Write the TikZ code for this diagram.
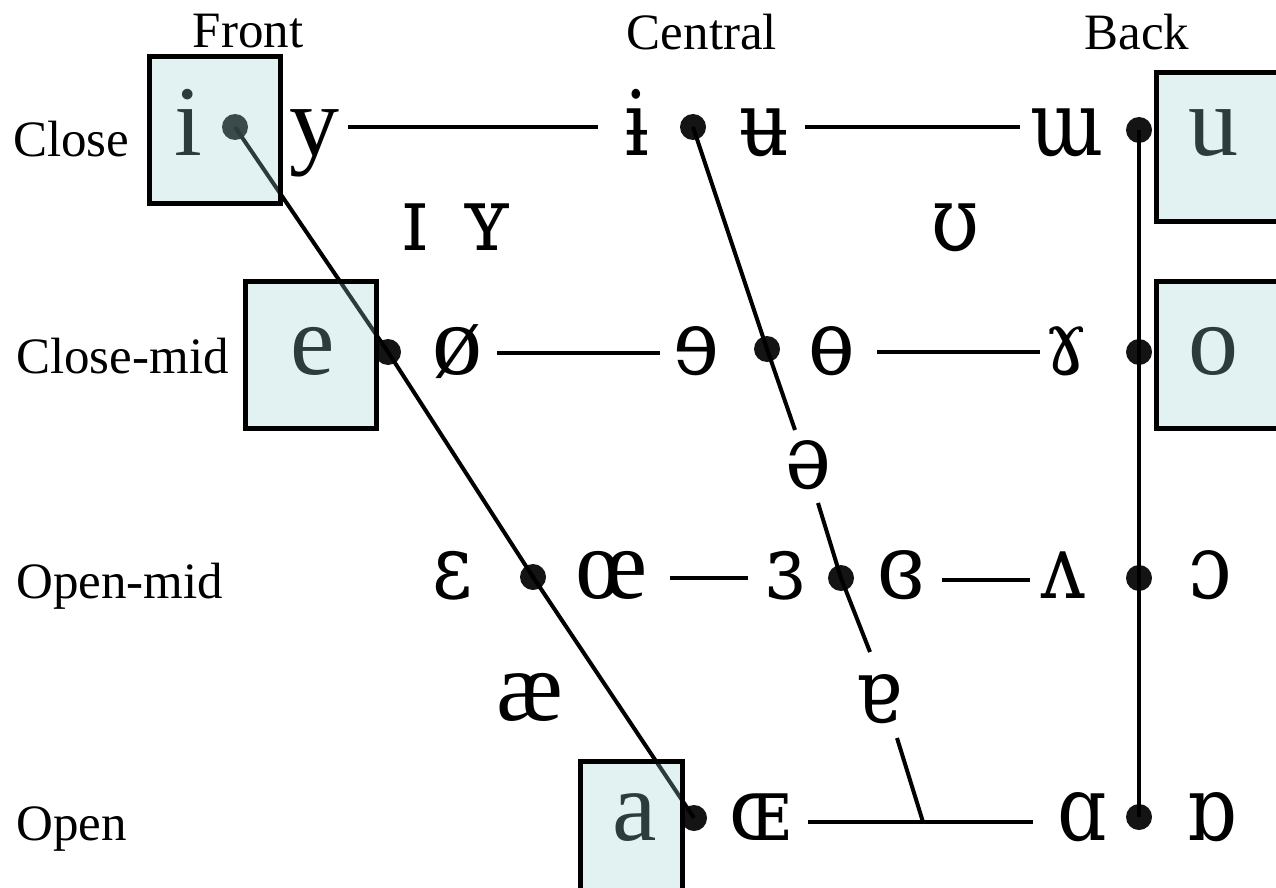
\documentclass[tikz,border=0pt]{standalone}
\usepackage{fontspec}
\setmainfont{Liberation Serif}
\newfontfamily\ipafont{DejaVu Serif}
\newcommand{\ipx}[1]{{\ipafont\fontsize{90}{90}\selectfont\scalebox{0.86}[1]{#1}}}
\definecolor{boxcyan}{RGB}{155,207,207}
\tikzset{
  lbl/.style={font=\fontsize{51}{51}\selectfont, inner sep=0pt, anchor=base},
  rowlbl/.style={font=\fontsize{51}{51}\selectfont, inner sep=0pt, anchor=base west},
  ipa/.style={font=\fontsize{100}{100}\selectfont, inner sep=0pt, anchor=base},
  vbox/.style={draw=black, line width=5pt, fill=boxcyan, fill opacity=0.29, draw opacity=1, inner sep=0pt},
  vdot/.style={circle, fill=black!92, inner sep=0pt, minimum size=26pt},
  ln/.style={line width=4pt},
}
\begin{document}
\begin{tikzpicture}[x=1pt,y=-1pt]
\useasboundingbox (0,0) rectangle (1276,888);
\clip (0,0) rectangle (1276,888);

% column and row labels
\node[lbl] (front) at (248,48) {Front};
\node[lbl] (central) at (702,50) {Central};
\node[lbl] (back) at (1137,50) {Back};
\node[rowlbl] (close) at (13,157) {Close};
\node[rowlbl] (closemid) at (16,373) {Close-mid};
\node[rowlbl] (openmid) at (16,598) {Open-mid};
\node[rowlbl] (open) at (16,840) {Open};

% dots
\node[vdot] (di) at (235,127) {};
\node[vdot] (dc1) at (693,127) {};
\node[vdot] (db1) at (1139,130) {};
\node[vdot] (de) at (388,352) {};
\node[vdot] (dc2) at (767,349) {};
\node[vdot] (db2) at (1139,352) {};
\node[vdot] (dom) at (533,577) {};
\node[vdot] (dc3) at (841,578) {};
\node[vdot] (db3) at (1139,578) {};
\node[vdot] (da) at (694,818) {};
\node[vdot] (db4) at (1139,817) {};

% vowel symbols
\node[ipa] (vi) at (188,155) {i};
\node[ipa] (vy) at (314,155) {y};
\node[ipa] (vbi) at (637,155) {\ipx{ɨ}};
\node[ipa] (vbu) at (764,155) {\ipx{ʉ}};
\node[ipa] (vmw) at (1067,155) {\ipx{ɯ}};
\node[ipa] (vu) at (1213,155) {u};

\node[ipa] (vsi) at (415,250) {\ipx{ɪ}};
\node[ipa] (vsy) at (487,250) {\ipx{ʏ}};
\node[ipa] (vsu) at (955,250) {\ipx{ʊ}};

\node[ipa] (ve) at (313,374) {e};
\node[ipa] (voe) at (457,374) {ø};
\node[ipa] (vre) at (696,374) {\ipx{ɘ}};
\node[ipa] (vbo) at (832,374) {\ipx{ɵ}};
\node[ipa] (vga) at (1066,374) {\ipx{ɤ}};
\node[ipa] (vo) at (1213,374) {o};

\node[ipa] (vschwa) at (808,488) {\ipx{ə}};

\node[ipa] (veps) at (453,598) {\ipx{ɛ}};
\node[ipa] (voel) at (612,598) {œ};
\node[ipa] (vrep) at (785,598) {\ipx{ɜ}};
\node[ipa] (vcre) at (901,598) {\ipx{ɞ}};
\node[ipa] (vwv) at (1063,598) {\ipx{ʌ}};
\node[ipa] (voo) at (1210,598) {\ipx{ɔ}};

\node[ipa] (vae) at (530,720) {æ};
\node[ipa] (vta) at (879,722) {\ipx{ɐ}};

\node[ipa] (va) at (635,840) {a};
\node[ipa] (vsoe) at (760,840) {\ipx{ɶ}};
\node[ipa] (valpha) at (1082,840) {\ipx{ɑ}};
\node[ipa] (vtalpha) at (1211,840) {\ipx{ɒ}};

% horizontal line ends
\coordinate (h1a) at (348,127);  \coordinate (h1b) at (598,127);
\coordinate (h2a) at (805,127);  \coordinate (h2b) at (1020,127);
\coordinate (h3a) at (497,353);  \coordinate (h3b) at (660,353);
\coordinate (h4a) at (877,352);  \coordinate (h4b) at (1040,352);
\coordinate (h5a) at (670,578);  \coordinate (h5b) at (748,578);
\coordinate (h6a) at (942,580);  \coordinate (h6b) at (1030,580);
\coordinate (h7a) at (808,822);  \coordinate (h7b) at (1033,822);
% central line gaps
\coordinate (g1) at (795,430);
\coordinate (g2) at (818,503);
\coordinate (g3) at (870,652);
\coordinate (g4) at (897,738);
\coordinate (jc) at (923,822);

\draw[ln] (h1a) -- (h1b);
\draw[ln] (h2a) -- (h2b);
\draw[ln] (h3a) -- (h3b);
\draw[ln] (h4a) -- (h4b);
\draw[ln] (h5a) -- (h5b);
\draw[ln] (h6a) -- (h6b);
\draw[ln] (h7a) -- (h7b);

% front line
\draw[ln] (di.center) -- (de.center) -- (dom.center) -- (da.center);
% central line
\draw[ln] (dc1.center) -- (dc2.center) -- (g1);
\draw[ln] (g2) -- (dc3.center) -- (g3);
\draw[ln] (g4) -- (jc);
% back line
\draw[line width=3.5pt] (db1.center) -- (db2.center) -- (db3.center) -- (db4.center);

% translucent boxes on top
\node[vbox, minimum width=131pt, minimum height=146pt] (ibox) at (214.5,130) {};
\node[vbox, minimum width=131pt, minimum height=147pt] (ebox) at (310.5,355) {};
\node[vbox, minimum width=150pt, minimum height=148pt] (ubox) at (1231,147) {};
\node[vbox, minimum width=150pt, minimum height=147pt] (obox) at (1231,355) {};
\node[vbox, minimum width=102pt, minimum height=160pt] (abox) at (631,841) {};
\end{tikzpicture}
\end{document}
